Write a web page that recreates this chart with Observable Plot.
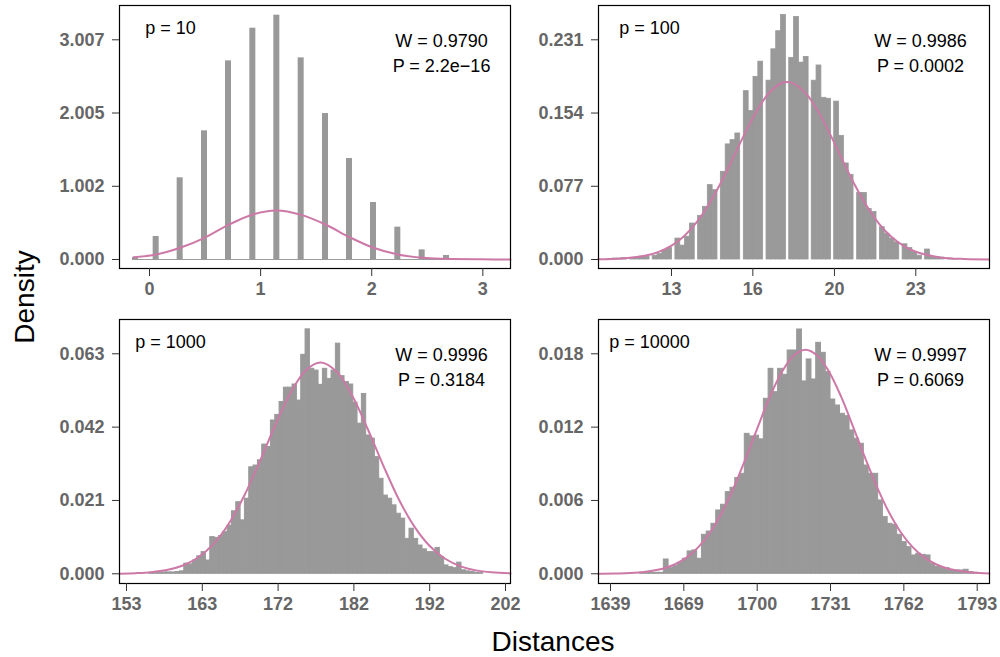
<!DOCTYPE html>
<html><head><meta charset="utf-8">
<script src="https://cdn.jsdelivr.net/npm/d3@7"></script>
<script src="https://cdn.jsdelivr.net/npm/@observablehq/plot@0.6"></script>
<style>
body{margin:0;background:#fff;}
#chart{position:relative;width:1000px;height:657px;font-family:"Liberation Sans",Arial,Helvetica,sans-serif;overflow:hidden;}
#chart svg{position:absolute;left:0;top:0;}
.lab{position:absolute;font-size:28px;color:#000;white-space:nowrap;line-height:1;}
</style></head><body><div id="chart"></div>
<script>
// ---------- p = 10 ----------
const p10Values  = [-0.126, 0.060, 0.276, 0.495, 0.711, 0.930, 1.146, 1.365, 1.584, 1.800, 2.016, 2.235, 2.454, 2.673];
const p10Density = [0.03, 0.315, 1.118, 1.761, 2.719, 3.166, 3.344, 2.760, 1.998, 1.382, 0.780, 0.443, 0.132, 0.055];
const p10BinWidth = 0.054;
const p10CurveX = [-0.141, 0.060, 0.276, 0.495, 0.711, 0.930, 1.14, 1.365, 1.584, 1.800, 2.016, 2.235, 2.454, 2.673, 3.0, 3.249];
const p10CurveY = [0.032, 0.068, 0.160, 0.297, 0.474, 0.616, 0.671, 0.611, 0.479, 0.306, 0.160, 0.068, 0.023, 0.009, 0.002, 0.0];
const p10XTicks = [0, 1, 2, 3];
const p10YTicks = [0, 1.002, 2.005, 3.007];

// ---------- p = 100 ----------
const p100GroupStart = [10.38, 11.31, 12.23, 13.16, 14.09, 15.02, 15.96, 16.89, 17.82, 18.74, 19.66, 20.60, 21.53, 22.46, 23.38, 24.31];
const p100Density = [
  [0.0005, 0.001, 0.001, 0.0015],
  [0.0015, 0.002, 0.003, 0.003],
  [0.004, 0.006, 0.0095, 0.012],
  [0.022, 0.0146, 0.024, 0.0378],
  [0.0459, 0.0554, 0.0782, 0.0729],
  [0.0922, 0.121, 0.1255, 0.1325],
  [0.177, 0.156, 0.192, 0.208],
  [0.188, 0.221, 0.240, 0.257],
  [0.212, 0.255, 0.207, 0.213],
  [0.188, 0.204, 0.170, 0.169],
  [0.166, 0.130, 0.101, 0.089],
  [0.070, 0.070, 0.053, 0.050],
  [0.034, 0.027, 0.022, 0.018],
  [0.016, 0.012, 0.008, 0.004],
  [0.0105, 0.003, 0.0025, 0.002],
  [0.001, 0.0005, 0, 0]
];
const p100BinWidth = 0.198;
const p100CurveX = [10, 11, 12, 12.5, 13, 13.5, 14, 14.5, 15, 15.5, 16, 16.5, 17, 17.5, 17.74, 18, 18.5, 19, 19.5, 20, 20.5, 21, 21.5, 22, 22.5, 23, 24, 25, 26];
const p100CurveY = [0.0002, 0.0011, 0.0045, 0.0083, 0.0146, 0.0243, 0.0382, 0.0567, 0.0796, 0.1056, 0.1323, 0.1567, 0.1753, 0.1853, 0.1865, 0.1850, 0.1747, 0.1558, 0.1313, 0.1045, 0.0786, 0.0559, 0.0375, 0.0238, 0.0143, 0.0081, 0.0022, 0.0005, 0.0001];
const p100XTicks = [13, 16.33, 19.67, 23];
const p100YTicks = [0, 0.077, 0.154, 0.231];

// ---------- p = 1000 ----------
const p1000Start = 155.79;
const p1000BinWidth = 0.56;
const p1000Density = [
  0.0003,0.0003,0.0003,0.0004,0.0004,0.0004,0.0005,0.0007,0.0029,0.0027,
  0.0038,0.0050,0.0062,0.0038,0.0105,0.0103,0.0108,0.0119,0.0138,0.0179,
  0.0205,0.0153,0.0215,0.0305,0.0310,0.0325,0.0370,0.0363,0.0439,0.0455,
  0.0492,0.0533,0.0533,0.0542,0.0496,0.0627,0.0700,0.0587,0.0582,0.0541,
  0.0587,0.0558,0.0582,0.0659,0.0566,0.0549,0.0542,0.0490,0.0430,0.0515,
  0.0396,0.0387,0.0334,0.0272,0.0224,0.0215,0.0196,0.0172,0.0158,0.0100,
  0.0129,0.0100,0.0081,0.0070,0.0062,0.0062,0.0074,0.0048,0.0024,0.0019,
  0.0016,0.0032,0.0010,0.0007,0.0005,0.0003,0.0002];
const p1000CurveX = [151.9, 154, 156, 158, 160, 162, 164, 166, 168, 170, 172, 174, 176, 177.9, 180, 182, 184, 186, 188, 190, 192, 194, 196, 198, 200, 202.45];
const p1000CurveY = [0.00004, 0.00018, 0.00045, 0.00106, 0.0023, 0.00459, 0.00843, 0.01426, 0.02226, 0.0320, 0.0424, 0.0518, 0.0583, 0.0605, 0.0578, 0.0509, 0.0414, 0.0310, 0.02136, 0.01358, 0.00796, 0.0043, 0.00214, 0.00098, 0.00041, 0.00012];
const p1000XTicks = [152.8, 162.6, 172.4, 182.2, 192.0, 201.8];
const p1000YTicks = [0, 0.021, 0.042, 0.063];

// ---------- p = 10000 ----------
const p10000Start = 1651;
const p10000BinWidth = 2;
const p10000Density = [
  0.00008,0.00008,0.00008,0.00008,0.00008,0.00117,0.00046,0.00063,0.0009,0.00123,
  0.00183,0.00191,0.00123,0.00319,0.00346,0.00409,0.00518,0.00565,0.00668,0.00704,
  0.00783,0.00818,0.01145,0.01124,0.0113,0.0110,0.01432,0.01677,0.01486,0.01677,
  0.01628,0.01827,0.01827,0.01999,0.01574,0.01754,0.0159,0.0189,0.01808,0.0165,
  0.01426,0.01377,0.01309,0.0129,0.01173,0.01105,0.01064,0.00886,0.00818,0.00818,
  0.006,0.00464,0.00409,0.00401,0.00319,0.00259,0.00218,0.0015,0.00164,0.00155,
  0.0015,0.00082,0.00055,0.00046,0.00046,0.00027,0.00027,0.00027,0.00033,0.00014,
  0.00008];
const p10000CurveX = [1633.6, 1640.5, 1650.5, 1660.5, 1665.5, 1670.5, 1675.5, 1680.5, 1685.5, 1690.5, 1695.5, 1700.5, 1705.5, 1710.5, 1715.5, 1720.5, 1725.5, 1730.5, 1735.5, 1740.5, 1745.5, 1750.5, 1755.5, 1760.5, 1765.5, 1770.5, 1775.5, 1780.5, 1790.5, 1797.7];
const p10000CurveY = [0.00001, 0.00002, 0.00011, 0.00042, 0.00076, 0.00132, 0.00218, 0.0034, 0.00505, 0.00711, 0.0095, 0.01203, 0.01447, 0.0165, 0.01785, 0.01833, 0.01785, 0.0165, 0.01447, 0.01203, 0.0095, 0.00711, 0.00505, 0.0034, 0.00218, 0.00132, 0.00076, 0.00042, 0.00011, 0.00003];
const p10000XTicks = [1638.6, 1669.4, 1700.2, 1731.0, 1761.8, 1792.6];
const p10000YTicks = [0, 0.006, 0.012, 0.018];

// ---------- labels ----------
const panelLabels = ["p = 10", "p = 100", "p = 1000", "p = 10000"];
const wLabels = ["W = 0.9790", "W = 0.9986", "W = 0.9996", "W = 0.9997"];
const pLabels = ["P = 2.2e\u221216", "P = 0.0002", "P = 0.3184", "P = 0.6069"];
const yTitle = "Density";
const xTitle = "Distances";

// ---------- build tables ----------
const bars10 = p10Values.map((v, i) => ({x1: v - p10BinWidth / 2, x2: v + p10BinWidth / 2, d: p10Density[i]}));
const bars100 = p100GroupStart.flatMap((g, gi) => p100Density[gi].map((d, j) => ({x1: g + j * p100BinWidth, x2: g + (j + 1) * p100BinWidth, d})));
const bars1000 = p1000Density.map((d, i) => ({x1: p1000Start + i * p1000BinWidth, x2: p1000Start + (i + 1) * p1000BinWidth, d}));
const bars10000 = p10000Density.map((d, i) => ({x1: p10000Start + i * p10000BinWidth, x2: p10000Start + (i + 1) * p10000BinWidth, d}));
const zip = (xs, ys) => xs.map((x, i) => ({x, y: ys[i]}));

const FONT = '"Liberation Sans", Arial, Helvetica, sans-serif';
const W = 1000, H = 657;

function panel(o) {
  const [L, T, R, B] = o.frame;
  const marks = [
    Plot.rect(o.bars, {x1: "x1", x2: "x2", y1: 0, y2: "d", fill: "#999999", stroke: "#999999", strokeWidth: o.seam})
  ];
  if (o.baseline) {
    marks.push(Plot.ruleY([0], {x1: d3.min(o.bars, d => d.x1), x2: o.xDomain[1], stroke: "#9a9a9a", strokeWidth: 1}));
  }
  marks.push(
    Plot.line(o.curve, {x: "x", y: "y", stroke: "#CC79A7", strokeWidth: 2, curve: "catmull-rom"}),
    Plot.frame({stroke: "#000", strokeWidth: 1.2}),
    Plot.axisX({ticks: o.xTicks, tickFormat: d3.format(".0f"), tickSize: 8, tickPadding: 6, label: null,
      fontWeight: "bold", fontSize: 18, fill: "#666666", stroke: "#333333"}),
    Plot.axisY({ticks: o.yTicks, tickFormat: d3.format(".3f"), tickSize: 7, tickPadding: 8, label: null,
      fontWeight: "bold", fontSize: 18, fill: "#666666", stroke: "#333333"}),
    Plot.text([o.pLab], {text: d => d, frameAnchor: "top-left", dx: 51, dy: 28, textAnchor: "middle", lineAnchor: "bottom", fontSize: 18, fill: "#000"}),
    Plot.text([o.wLab], {text: d => d, frameAnchor: "top-right", dx: -69, dy: 41.5, textAnchor: "middle", lineAnchor: "bottom", fontSize: 18, fill: "#000"}),
    Plot.text([o.pvLab], {text: d => d, frameAnchor: "top-right", dx: -69, dy: 66.5, textAnchor: "middle", lineAnchor: "bottom", fontSize: 18, fill: "#000"})
  );
  return Plot.plot({
    width: W, height: H,
    marginLeft: L, marginTop: T, marginRight: W - R, marginBottom: H - B,
    x: {domain: o.xDomain},
    y: {domain: o.yDomain},
    style: {background: "transparent", fontFamily: FONT, fontSize: "18px", overflow: "visible"},
    marks
  });
}

const chart = document.getElementById("chart");
const panels = [
  {frame: [119, 5, 510, 268], xDomain: [-0.27, 3.249], yDomain: [-0.1232, 3.4766], bars: bars10, baseline: true, seam: 0,
   curve: zip(p10CurveX, p10CurveY), xTicks: p10XTicks, yTicks: p10YTicks},
  {frame: [598, 5, 989, 268], xDomain: [10.012, 26.017], yDomain: [-0.00946, 0.26706], bars: bars100, seam: 0.8,
   curve: zip(p100CurveX, p100CurveY), xTicks: p100XTicks, yTicks: p100YTicks},
  {frame: [119, 319, 510, 583], xDomain: [151.895, 202.446], yDomain: [-0.002778, 0.07282], bars: bars1000, seam: 1,
   curve: zip(p1000CurveX, p1000CurveY), xTicks: p1000XTicks, yTicks: p1000YTicks},
  {frame: [598, 319, 989, 583], xDomain: [1633.56, 1797.77], yDomain: [-0.000794, 0.020807], bars: bars10000, seam: 1,
   curve: zip(p10000CurveX, p10000CurveY), xTicks: p10000XTicks, yTicks: p10000YTicks}
];
panels.forEach((p, i) => {
  p.pLab = panelLabels[i]; p.wLab = wLabels[i]; p.pvLab = pLabels[i];
  chart.appendChild(panel(p));
});

const yl = document.createElement("div");
yl.className = "lab"; yl.textContent = yTitle;
yl.style.left = "25px"; yl.style.top = "297px";
yl.style.transform = "translate(-50%,-50%) rotate(-90deg)";
chart.appendChild(yl);
const xl = document.createElement("div");
xl.className = "lab"; xl.textContent = xTitle;
xl.style.left = "553px"; xl.style.top = "642px";
xl.style.transform = "translate(-50%,-50%)";
chart.appendChild(xl);
</script></body></html>
